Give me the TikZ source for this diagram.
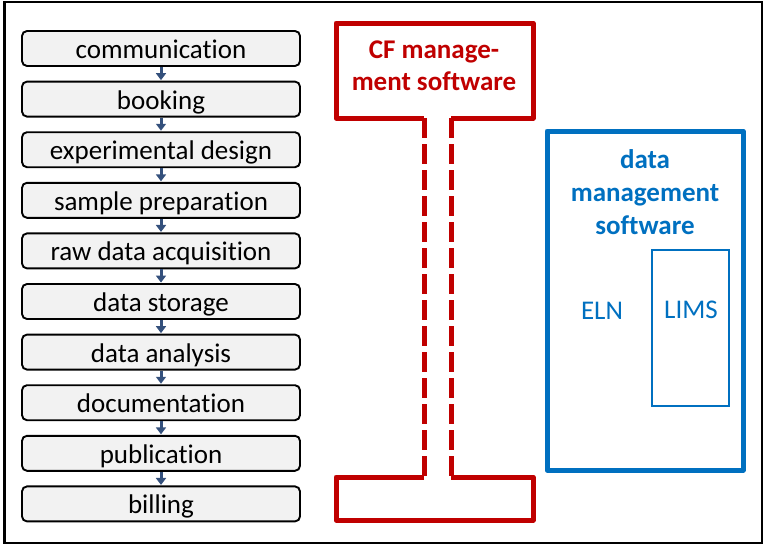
\documentclass[tikz,border=0pt]{standalone}
\usepackage{fontspec}
\setmainfont{Carlito}[Ligatures={NoCommon}]
\usetikzlibrary{arrows.meta}
\definecolor{cfred}{RGB}{192,0,0}
\definecolor{dmblue}{RGB}{0,112,192}
\definecolor{arrblue}{RGB}{52,80,124}
\definecolor{boxgray}{RGB}{242,242,242}
\begin{document}
\begin{tikzpicture}[x=1pt,y=-1pt,
  stepbox/.style={draw=black, line width=1.9pt, fill=boxgray, rounded corners=5pt,
    minimum width=278pt, minimum height=35pt, inner sep=0pt,
    text height=20pt, text depth=0pt, font=\fontsize{27}{30}\selectfont},
  flow/.style={arrblue, line width=3pt, -{Triangle[width=10pt,length=7pt]}, shorten >=0.5pt},
  cfline/.style={cfred, line width=5pt, line join=round},
  cfdash/.style={cfred, line width=5pt, dash pattern=on 20pt off 6pt},
  dmframe/.style={dmblue, line width=5pt, line join=round},
  redtxt/.style={cfred, font=\bfseries\fontsize{27}{30}\selectfont, anchor=base, inner sep=0pt},
  bluetxt/.style={dmblue, font=\bfseries\fontsize{27}{30}\selectfont, anchor=base, inner sep=0pt},
  bluelbl/.style={dmblue, font=\fontsize{27}{30}\selectfont, anchor=base, inner sep=0pt}
]
\useasboundingbox (0,0) rectangle (765,546);
\draw[line width=2.8pt] (4.3,2) rectangle (762,543);

% workflow steps
\foreach \n/\t [count=\i from 0] in {s0/communication, s1/booking, s2/experimental design,
  s3/sample preparation, s4/raw data acquisition, s5/data storage, s6/data analysis,
  s7/documentation, s8/publication, s9/billing}
  \node[stepbox] (\n) at (161, 48.5+50.6*\i) {\t};
\foreach \a/\b in {s0/s1, s1/s2, s2/s3, s3/s4, s4/s5, s5/s6, s6/s7, s7/s8, s8/s9}
  \draw[flow] (\a.south) -- (\b.north);

% CF management software
\coordinate (tl) at (424,118);
\coordinate (tr) at (451,118);
\coordinate (bl) at (424,477);
\coordinate (br) at (451,477);
\draw[cfline] (tl) -- (336,118) -- (336,23) -- (533,23) -- (533,118) -- (tr);
\draw[cfline] (bl) -- (336,477) -- (336,520) -- (533,520) -- (533,477) -- (br);
\draw[cfdash] (tl) -- (bl);
\draw[cfdash] (tr) -- (br);
\node[redtxt] (cf1) at (434,58.3) {CF manage-};
\node[redtxt] (cf2) at (434,90) {ment software};

% data management software
\draw[dmframe] (547,131) rectangle (743,470);
\draw[dmblue, line width=2.2pt] (652,250) rectangle (729,406);
\node[bluetxt] (dm1) at (645,168) {data};
\node[bluetxt] (dm2) at (645,201) {management};
\node[bluetxt] (dm3) at (645,234) {software};
\node[bluelbl] (eln) at (602,319) {ELN};
\node[bluelbl] (lims) at (691,318) {LIMS};
\end{tikzpicture}
\end{document}
